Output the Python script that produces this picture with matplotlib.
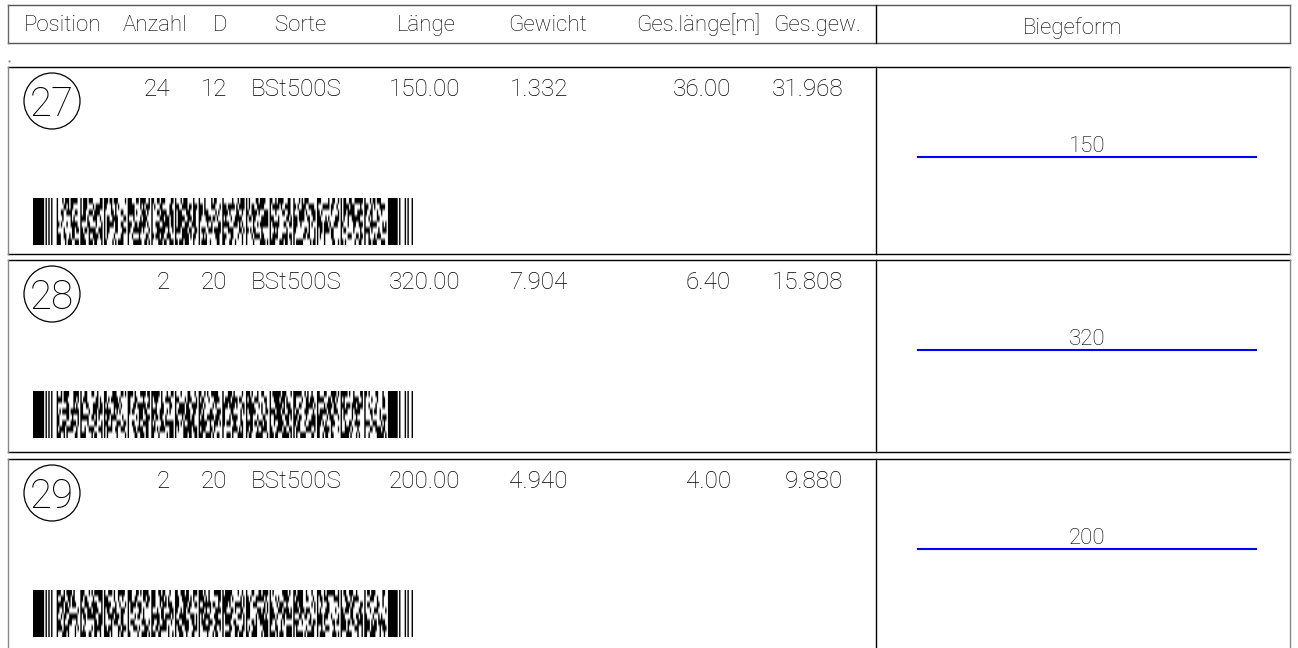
import hashlib
import numpy as np
import matplotlib
matplotlib.use("Agg")
import matplotlib.pyplot as plt
from matplotlib.patches import Circle

# Data (Biegeliste)
positionen = ["27", "28", "29"]
anzahl = [24, 2, 2]
durchmesser = [12, 20, 20]
sorte = ["BSt500S", "BSt500S", "BSt500S"]
laenge = [150.00, 320.00, 200.00]
gewicht = [1.332, 7.904, 4.940]
ges_laenge = [36.00, 6.40, 4.00]
ges_gew = [31.968, 15.808, 9.880]
biegeform = [150, 320, 200]

header = ["Position", "Anzahl", "D", "Sorte", "Länge", "Gewicht",
          "Ges.länge[m]", "Ges.gew."]
header_x = [24, 123, 213, 275, 397, 508, 636, 773]

FONT = "Roboto"
FW = "light"

fig = plt.figure(figsize=(12.98, 6.48), dpi=100)
ax = fig.add_axes([0, 0, 1, 1])
ax.set_xlim(0, 1298)
ax.set_ylim(648, 0)
ax.axis("off")

x0, x1, xdiv = 8, 1290, 876
htxt = dict(family=FONT, fontweight=FW, fontsize=16, color="black")
ntxt = dict(family=FONT, fontweight=FW, fontsize=17.5, color="black")


def box(top, bottom, edge_col="#888888", tb_col="black"):
    ax.plot([x0, x1], [top, top], color=tb_col, lw=1.0)
    ax.plot([x0, x1], [bottom, bottom], color=tb_col, lw=1.0)
    ax.plot([x0, x0], [top, bottom], color=edge_col, lw=1.0)
    ax.plot([x1, x1], [top, bottom], color=edge_col, lw=1.0)
    ax.plot([xdiv, xdiv], [top, bottom], color="black", lw=1.0)


# header
box(5, 43, edge_col="#666666", tb_col="#555555")
for h, hx in zip(header, header_x):
    ax.text(hx, 31, h, ha="left", va="baseline", **htxt)
ax.text(1073, 34, "Biegeform", ha="center", va="baseline", **htxt)
ax.plot([9], [61], marker=".", ms=1.2, color="#888888")


# PDF417-like pattern built from the row text
def compositions(total, parts, lo=1, hi=6):
    if parts == 1:
        return [[total]] if lo <= total <= hi else []
    out = []
    for w in range(lo, hi + 1):
        for rest in compositions(total - w, parts - 1, lo, hi):
            out.append([w] + rest)
    return out


CODEWORDS = compositions(17, 8)
START = [8, 1, 1, 1, 1, 1, 1, 3]
STOP = [7, 1, 1, 3, 1, 1, 1, 2, 1]


def widths_to_modules(widths):
    mods = []
    for i, w in enumerate(widths):
        mods += [1 if i % 2 == 0 else 0] * w
    return mods


def barcode_matrix(text, n_rows=8, n_cols=14):
    digest = hashlib.sha256(text.encode("utf-8")).digest()
    rows = []
    for r in range(n_rows):
        mods = widths_to_modules(START)
        for c in range(n_cols):
            b = digest[(r * n_cols + c) % len(digest)]
            b2 = digest[(r * 7 + c * 3 + 5) % len(digest)]
            idx = (b * 256 + b2 + r * 131 + c * 17) % len(CODEWORDS)
            mods += widths_to_modules(CODEWORDS[idx])
        mods += widths_to_modules(STOP)
        rows.append(mods)
    return np.array(rows)


row_tops = [67, 260, 459]
row_bottoms = [254, 452, 660]

for i, top in enumerate(row_tops):
    box(top, row_bottoms[i])
    ax.add_patch(Circle((52, top + 34), 28, fill=False, ec="black", lw=0.9))
    ax.text(52, top + 49, positionen[i], ha="center", va="baseline",
            family=FONT, fontweight=FW, fontsize=29)
    base = top + 29
    ax.text(170, base, f"{anzahl[i]}", ha="right", va="baseline", **ntxt)
    ax.text(227, base, f"{durchmesser[i]}", ha="right", va="baseline", **ntxt)
    ax.text(251, base, sorte[i], ha="left", va="baseline", **ntxt)
    ax.text(460, base, f"{laenge[i]:.2f}", ha="right", va="baseline", **ntxt)
    ax.text(568, base, f"{gewicht[i]:.3f}", ha="right", va="baseline", **ntxt)
    ax.text(731, base, f"{ges_laenge[i]:.2f}", ha="right", va="baseline", **ntxt)
    ax.text(843, base, f"{ges_gew[i]:.3f}", ha="right", va="baseline", **ntxt)

    # Biegeform: straight bar
    ax.plot([918, 1256], [top + 90, top + 90], color="#0000ff", lw=1.5)
    ax.text(1087, top + 85, f"{biegeform[i]}", ha="center", va="baseline", **htxt)

    code = barcode_matrix(";".join([positionen[i], str(anzahl[i]), str(durchmesser[i]),
                                    sorte[i], f"{laenge[i]:.2f}", f"{gewicht[i]:.3f}"]))
    ax.imshow(code, cmap="gray_r", vmin=0, vmax=1, aspect="auto",
              extent=[33, 413, top + 178, top + 131], interpolation="antialiased")

ax.set_xlim(0, 1298)
ax.set_ylim(648, 0)
fig.savefig("out.png", dpi=100)
